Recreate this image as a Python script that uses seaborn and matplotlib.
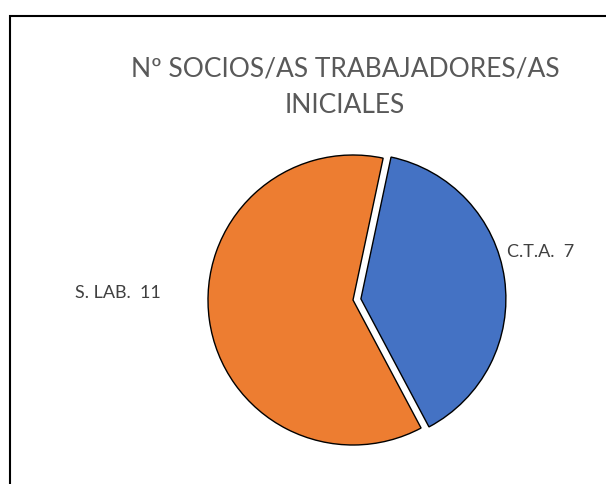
import seaborn as sns
import matplotlib.pyplot as plt
from matplotlib.patches import Rectangle

# data
categories = ["C.T.A.", "S. LAB."]
values = [7, 11]
colors = ["#4472C4", "#ED7D31"]
title = "Nº SOCIOS/AS TRABAJADORES/AS\nINICIALES"

sns.set_theme(style="white")
plt.rcParams["font.family"] = ["Lato", "DejaVu Sans"]

fig = plt.figure(figsize=(6.06, 4.84), dpi=100)

# chart border (runs off the right and bottom edge)
fig.patches.append(Rectangle((10 / 606, -0.1), 1.2, 1 - 16 / 484 + 0.1,
                             transform=fig.transFigure, fill=False,
                             edgecolor="black", linewidth=1.5))

# pie axes: centre at (353, 300) px, radius 145 px
half = 145 * 1.25
ax = fig.add_axes([(353 - half) / 606, 1 - (300 + half) / 484,
                   2 * half / 606, 2 * half / 484])
ax.pie(values, colors=colors, startangle=78, counterclock=False,
       explode=[0.055, 0], radius=1,
       wedgeprops=dict(edgecolor="black", linewidth=1.0))
ax.set_xlim(-1.25, 1.25)
ax.set_ylim(-1.25, 1.25)
ax.set_aspect("equal")
ax.axis("off")

# data labels
label_pos = [(1.297, 0.331), (-1.621, 0.048)]
for cat, val, (x, y) in zip(categories, values, label_pos):
    ax.text(x, y, f"{cat}  {val}", ha="center", va="center",
            fontsize=13, color="#404040")

fig.text(345 / 606, 1 - 87 / 484, title, ha="center", va="center",
         fontsize=19, color="#595959", linespacing=1.6)

fig.savefig("out.png", dpi=100)
